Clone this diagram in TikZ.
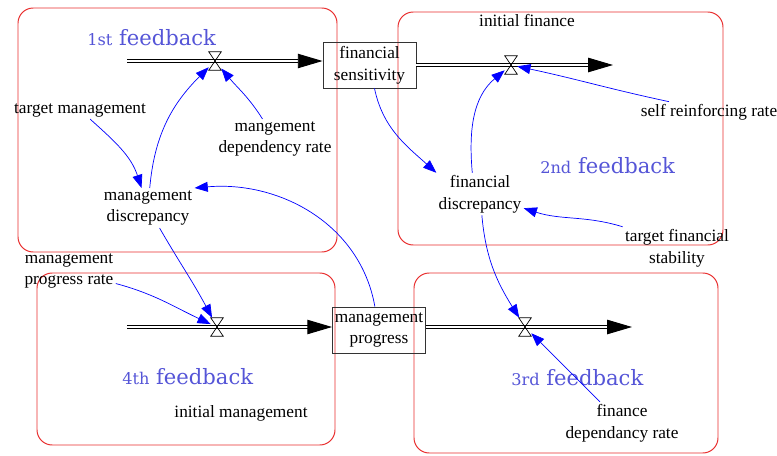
\documentclass[tikz,border=0pt]{standalone}
\usepackage{fontspec}
\setmainfont{Liberation Serif}
\newfontfamily\fbfont{DejaVu Serif}
\usetikzlibrary{arrows.meta,positioning,calc}

\definecolor{loopred}{RGB}{232,45,45}
\definecolor{fbblue}{RGB}{85,85,215}

\tikzset{
  loopbox/.style={draw=loopred,line width=0.7pt,rounded corners=0.38cm},
  varname/.style={align=center,inner sep=1.5pt,font=\fontsize{12.3}{15.5}\selectfont},
  levelbox/.style={draw=black!80,line width=0.6pt,minimum width=2.325cm,minimum height=1.15cm,
    align=center,inner sep=1pt,font=\fontsize{12.3}{15.5}\selectfont},
  valvebox/.style={inner sep=0pt,minimum width=0.3cm,minimum height=0.45cm},
  pipe/.style={double=white,double distance=1.6pt,line width=0.7pt,-{Triangle[length=0.62cm,width=0.36cm]}},
  link/.style={blue,line width=0.5pt,-{Triangle[length=0.33cm,width=0.25cm]}},
  fbtitle/.style={text=fbblue,font=\fbfont\fontsize{15}{15}\selectfont,anchor=base west,inner sep=0pt}
}
\newcommand\drawvalve[1]{\draw[line width=0.5pt] (#1.north west) -- (#1.north east) -- (#1.south west) -- (#1.south east) -- cycle;}
\newcommand\ordsize{\fontsize{11.5}{11.5}\selectfont}

\begin{document}
\begin{tikzpicture}[x=0.025cm,y=0.025cm]
  \useasboundingbox (0,0) rectangle (777,-455);

  % the four loops
  \draw[loopbox] (18,-8) rectangle (337,-252);
  \draw[loopbox] (398,-12) rectangle (723,-245);
  \draw[loopbox] (37,-273) rectangle (335,-445);
  \draw[loopbox] (414,-273) rectangle (718,-453);

  \node[fbtitle] (fb1) at (87,-45) {{\ordsize 1st} feedback};
  \node[fbtitle] (fb2) at (540,-173) {{\ordsize 2nd} feedback};
  \node[fbtitle] (fb4) at (122,-384) {{\ordsize 4th} feedback};
  \node[fbtitle] (fb3) at (511,-385) {{\ordsize 3rd} feedback};

  % levels and valves
  \node[levelbox] (fs) at (369.5,-65) {financial\\sensitivity};
  \node[levelbox] (mp) at (379,-330) {management\\progress};

  \node[valvebox] (v1) at (215,-61) {};
  \node[valvebox] (v2) at (511,-65) {};
  \node[valvebox] (v4) at (217,-327) {};
  \node[valvebox] (v3) at (525,-327) {};

  \coordinate (src1) at (127,-61);
  \coordinate (snk2) at (613,-65);
  \coordinate (src4) at (127,-327);
  \coordinate (snk3) at (632,-327);

  % flows
  \draw[pipe] (src1) -- (src1 -| fs.west);
  \draw[pipe] (fs.east |- snk2) -- (snk2);
  \draw[pipe] (src4) -- (src4 -| mp.west);
  \draw[pipe] (mp.east |- snk3) -- (snk3);
  \drawvalve{v1}
  \drawvalve{v2}
  \drawvalve{v3}
  \drawvalve{v4}

  % variables
  \node[varname] (tm) at (80,-110) {target management};
  \node[varname] (mdr) at (275,-139) {mangement\\dependency rate};
  \node[varname] (md) at (148,-208) {management\\discrepancy};
  \node[varname] (ifin) at (527,-20) {initial finance};
  \node[varname] (srr) at (709,-112) {self reinforcing rate};
  \node[varname] (fd) at (480,-194) {financial\\discrepancy};
  \node[varname] (tfs) at (677,-248) {target financial\\stability};
  \node[varname] (mpr) at (69,-271) {management\\progress rate};
  \node[varname] (imgt) at (241,-413) {initial management};
  \node[varname] (fdr) at (622,-423) {finance\\dependancy rate};

  % links
  \draw[link] (tm) to[out=-42,in=108] (md);
  \draw[link] (md) to[out=85,in=225] (v1);
  \draw[link] (mdr) to[out=122,in=-50] (v1);
  \draw[link] (mp) to[out=100,in=5] (md.north east);
  \draw[link] (md) to[out=-60,in=118] (v4);
  \draw[link] (mpr) to[out=-15,in=155] (v4);
  \draw[link] (fs) to[out=-78,in=138] (fd.north west);
  \draw[link] (fd.110) to[out=95,in=220] (v2);
  \draw[link] ([xshift=-1cm]srr.north) to[out=168,in=-12] (v2);
  \draw[link] (tfs.north west) to[out=163,in=-18] (fd);
  \draw[link] (fd) to[out=-85,in=122] (v3);
  \draw[link] ([xshift=-0.55cm]fdr.north) -- (v3);
\end{tikzpicture}
\end{document}
